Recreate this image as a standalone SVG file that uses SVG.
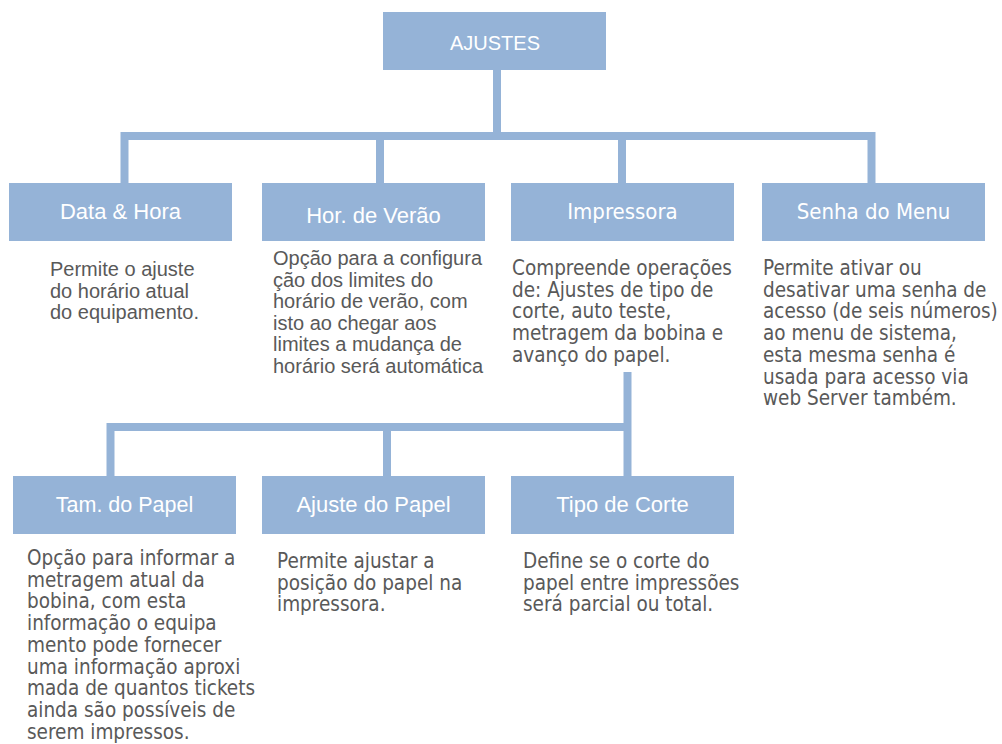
<svg xmlns="http://www.w3.org/2000/svg" width="1002" height="744" viewBox="0 0 1002 744">
<style>
.box{fill:#95b3d7}
.t1{font-family:"Liberation Sans",Arial,sans-serif;font-size:22px;fill:#ffffff;text-anchor:middle}
.t2{font-family:"DejaVu Sans Condensed","DejaVu Sans",sans-serif;font-stretch:condensed;font-size:22px;fill:#ffffff;text-anchor:middle}
.d1{font-family:"Liberation Sans",Arial,sans-serif;font-size:20px;fill:#595959}
.d2{font-family:"DejaVu Sans Condensed","DejaVu Sans",sans-serif;font-stretch:condensed;font-size:20.5px;fill:#595959}
.c{stroke:#95b3d7;stroke-width:8;fill:none}
</style>
<rect width="1002" height="744" fill="#ffffff"/>
<g id="connectors">
<path class="c" d="M497,70 V136 M120.5,136 H875.5 M124.5,136 V183 M380,136 V183 M622,136 V183 M871.5,136 V183"/>
<path class="c" d="M627.5,372 V476 M106.5,427 H631.5 M110.5,427 V476 M387,427 V476"/>
</g>
<g id="ajustes">
<rect class="box" x="383" y="12" width="223" height="58"/>
<text class="t1" x="495" y="50" style="font-size:20px">AJUSTES</text>
</g>
<g id="data-hora">
<rect class="box" x="9" y="183" width="223" height="58"/>
<text class="t1" x="120.5" y="219">Data &amp; Hora</text>
<text class="d1"><tspan x="50" y="276">Permite o ajuste</tspan><tspan x="50" y="297.5">do horário atual</tspan><tspan x="50" y="319">do equipamento.</tspan></text>
</g>
<g id="hor-verao">
<rect class="box" x="262" y="183" width="223" height="58"/>
<text class="t1" x="373.5" y="223">Hor. de Verão</text>
<text class="d1"><tspan x="273" y="265">Opção para a configura</tspan><tspan x="273" y="286.5">ção dos limites do</tspan><tspan x="273" y="308">horário de verão, com</tspan><tspan x="273" y="329.5">isto ao chegar aos</tspan><tspan x="273" y="351">limites a mudança de</tspan><tspan x="273" y="372.5">horário será automática</tspan></text>
</g>
<g id="impressora">
<rect class="box" x="511" y="183" width="223" height="58"/>
<text class="t2" x="622.5" y="219">Impressora</text>
<text class="d2"><tspan x="512" y="275">Compreende operações</tspan><tspan x="512" y="296.7">de: Ajustes de tipo de</tspan><tspan x="512" y="318.4">corte, auto teste,</tspan><tspan x="512" y="340.1">metragem da bobina e</tspan><tspan x="512" y="361.8">avanço do papel.</tspan></text>
</g>
<g id="senha-menu">
<rect class="box" x="762" y="183" width="223" height="58"/>
<text class="t2" x="873.5" y="219">Senha do Menu</text>
<text class="d2"><tspan x="763" y="275">Permite ativar ou</tspan><tspan x="763" y="296.7">desativar uma senha de</tspan><tspan x="763" y="318.4">acesso (de seis números)</tspan><tspan x="763" y="340.1">ao menu de sistema,</tspan><tspan x="763" y="361.8">esta mesma senha é</tspan><tspan x="763" y="383.5">usada para acesso via</tspan><tspan x="763" y="405.2">web Server também.</tspan></text>
</g>
<g id="tam-papel">
<rect class="box" x="13" y="476" width="223" height="58"/>
<text class="t1" x="124.5" y="512" style="font-size:21.5px">Tam. do Papel</text>
<text class="d2"><tspan x="27" y="565">Opção para informar a</tspan><tspan x="27" y="586.7">metragem atual da</tspan><tspan x="27" y="608.4">bobina, com esta</tspan><tspan x="27" y="630.1">informação o equipa</tspan><tspan x="27" y="651.8">mento pode fornecer</tspan><tspan x="27" y="673.5">uma informação aproxi</tspan><tspan x="27" y="695.2">mada de quantos tickets</tspan><tspan x="27" y="716.9">ainda são possíveis de</tspan><tspan x="27" y="738.6">serem impressos.</tspan></text>
</g>
<g id="ajuste-papel">
<rect class="box" x="262" y="476" width="223" height="58"/>
<text class="t1" x="373.5" y="512">Ajuste do Papel</text>
<text class="d2"><tspan x="277" y="568">Permite ajustar a</tspan><tspan x="277" y="589.7">posição do papel na</tspan><tspan x="277" y="611.4">impressora.</tspan></text>
</g>
<g id="tipo-corte">
<rect class="box" x="511" y="476" width="223" height="58"/>
<text class="t1" x="622.5" y="512">Tipo de Corte</text>
<text class="d2"><tspan x="523" y="568">Define se o corte do</tspan><tspan x="523" y="589.7">papel entre impressões</tspan><tspan x="523" y="611.4">será parcial ou total.</tspan></text>
</g>
</svg>
